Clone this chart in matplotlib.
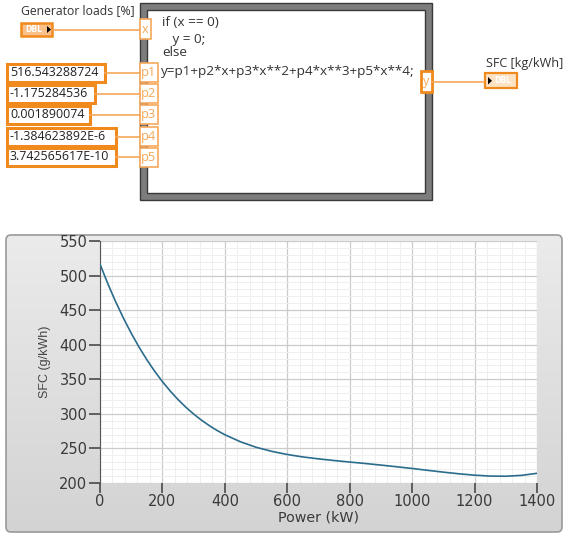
import matplotlib
matplotlib.use("Agg")
import matplotlib.pyplot as plt
from matplotlib.patches import Rectangle, FancyBboxPatch, Polygon
from matplotlib.ticker import AutoMinorLocator
import numpy as np

# formula node inputs
param_names = ["p1", "p2", "p3", "p4", "p5"]
param_values = ["516.543288724", "-1.175284536", "0.001890074",
                "-1.384623892E-6", "3.742565617E-10"]
formula_lines = ["if (x == 0)", "   y = 0;", "else",
                 "y=p1+p2*x+p3*x**2+p4*x**3+p5*x**4;"]

# SFC curve
power = [0, 25, 50, 75, 100, 125, 150, 175, 200, 225, 250, 275, 300, 325, 350, 375,
         400, 450, 500, 550, 600, 650, 700, 750, 800, 850, 900, 950, 1000, 1050,
         1100, 1150, 1200, 1250, 1300, 1350, 1400]
sfc = [516.5, 488.3, 462.3, 438.5, 416.6, 396.6, 378.3, 361.7, 346.6, 333.0, 320.7,
       309.6, 299.7, 290.9, 283.0, 276.0, 269.8, 259.6, 251.7, 245.8, 241.2, 237.7,
       234.9, 232.5, 230.3, 228.2, 225.9, 223.5, 221.0, 218.3, 215.7, 213.3, 211.3,
       210.0, 209.8, 211.0, 214.0]
x_ticks = [0, 200, 400, 600, 800, 1000, 1200, 1400]
y_ticks = [200, 250, 300, 350, 400, 450, 500, 550]

W, H = 564, 536
ORANGE = "#f08a1c"
LIGHT_OR = "#f6a85a"
FONT = "Open Sans"

fig = plt.figure(figsize=(W / 100, H / 100), dpi=100)
bg = fig.add_axes([0, 0, 1, 1])
bg.set_xlim(0, W); bg.set_ylim(H, 0); bg.axis("off")

# ---- block diagram ----
bg.add_patch(Rectangle((140, 3), 292, 197, fc="#7d7d7d", ec="#3a3a3a", lw=1))
bg.add_patch(Rectangle((147, 10), 278, 183, fc="white", ec="#3a3a3a", lw=1))
ys = [22, 39, 53, 72]
xs = [162, 162, 162, 161]
for t, x, y in zip(formula_lines, xs, ys):
    bg.text(x, y, t, fontsize=9.7, family=FONT, color="#333333", va="center", ha="left")

# input control
bg.text(21, 11, "Generator loads [%]", fontsize=8.8, family=FONT, color="#333333", va="center")
bg.plot([53, 140], [29.5, 29.5], color=LIGHT_OR, lw=1.2)
bg.add_patch(Rectangle((21, 23), 31, 13, fc="#f9c08a", ec=ORANGE, lw=1.8))
bg.text(34, 29.7, "DBL", fontsize=5.5, fontweight="bold", color="white", ha="center", va="center",
        family="DejaVu Sans")
bg.add_patch(Polygon([[47, 26], [47, 33], [51, 29.5]], fc="black"))
bg.add_patch(Rectangle((140, 19), 11, 20, fc="white", ec=LIGHT_OR, lw=1.2))
bg.text(145.5, 29.5, "x", fontsize=9, family=FONT, color=LIGHT_OR, ha="center", va="center")

# constants -> terminals
centers = [72.5, 93.5, 114.5, 136.5, 157]
rights = [105, 95, 90, 116, 116]
for name, val, cy, r in zip(param_names, param_values, centers, rights):
    bg.plot([r, 140], [cy, cy], color=LIGHT_OR, lw=1.2)
    bg.add_patch(Rectangle((7, cy - 9), r - 7, 18, fc="white", ec=ORANGE, lw=2.2))
    bg.text(10, cy, val, fontsize=8.9, family=FONT, color="#222222", va="center", ha="left")
    bg.add_patch(Rectangle((140, cy - 9.5), 18, 19, fc="white", ec=LIGHT_OR, lw=1.2))
    bg.text(149, cy, name, fontsize=9.3, family=FONT, color=LIGHT_OR, va="center", ha="center")

# output
bg.plot([432, 484], [81.5, 81.5], color=LIGHT_OR, lw=1.2)
bg.add_patch(Rectangle((421, 71), 11, 21, fc="white", ec=ORANGE, lw=2))
bg.text(426.5, 81.5, "y", fontsize=9, family=FONT, color=LIGHT_OR, ha="center", va="center")
bg.add_patch(Rectangle((485, 73), 32, 15, fc="#fde2c4", ec=ORANGE, lw=1.6))
bg.text(503, 80.8, "DBL", fontsize=5.5, fontweight="bold", color="white", ha="center", va="center",
        family="DejaVu Sans")
bg.add_patch(Polygon([[488, 77], [488, 84.5], [492, 80.8]], fc="black"))
bg.text(486, 63, "SFC [kg/kWh]", fontsize=9.1, family=FONT, color="#333333", va="center")

# ---- graph panel ----
panel = FancyBboxPatch((6, 235), 556, 297, boxstyle="round,pad=0,rounding_size=5",
                       fc="none", ec="#9a9a9a", lw=1.2, zorder=3)
bg.add_patch(panel)
grad = np.linspace(0, 1, 200).reshape(-1, 1)
img = bg.imshow(grad, cmap=matplotlib.colors.LinearSegmentedColormap.from_list(
    "g", ["#ebebeb", "#d3d3d3"]), extent=(6, 562, 532, 235), aspect="auto", zorder=1)
img.set_clip_path(panel)
bg.set_xlim(0, W); bg.set_ylim(H, 0)

ax = fig.add_axes([100 / W, (H - 483) / H, 437 / W, 242 / H])
ax.set_facecolor("white")
ax.plot(power, sfc, color="#2b6c8c", lw=1.2, zorder=3)
ax.set_xlim(0, 1400)
ax.set_ylim(200, 550)
ax.set_xticks(x_ticks)
ax.set_yticks(y_ticks)
ax.xaxis.set_minor_locator(AutoMinorLocator(5))
ax.yaxis.set_minor_locator(AutoMinorLocator(5))
ax.grid(which="major", color="#cbcbcb", lw=0.9)
ax.grid(which="minor", color="#efefef", lw=0.7)
ax.set_axisbelow(True)
for s in ["top", "right", "bottom"]:
    ax.spines[s].set_visible(False)
ax.spines["left"].set_color("#555555")
ax.tick_params(axis="y", which="major", length=8, width=1.3, color="#555555", pad=1,
               labelsize=10.5, labelcolor="#3a3a3a")
ax.tick_params(axis="x", which="major", length=7, width=1.3, color="#555555", pad=1,
               labelsize=10.5, labelcolor="#3a3a3a")
ax.tick_params(which="minor", length=0)
ax.set_xlabel("Power (kW)", fontsize=10.3, color="#3a3a3a", labelpad=1)
ax.set_ylabel("SFC (g/kWh)", fontsize=9, family="Liberation Sans", color="#444444", labelpad=6)

fig.savefig("out.png", dpi=100, facecolor="white")
